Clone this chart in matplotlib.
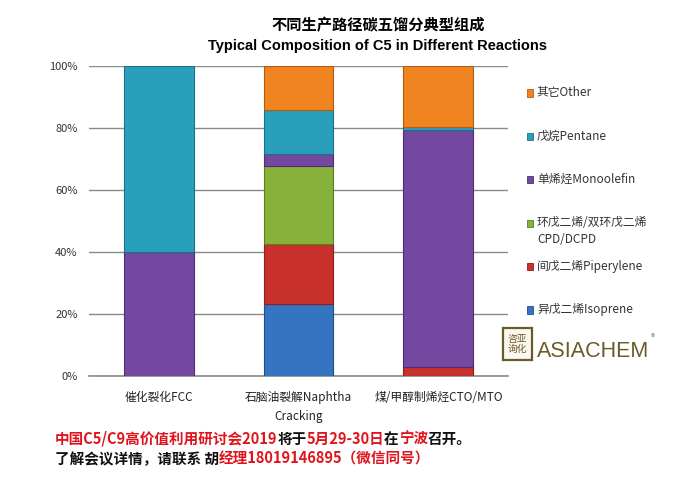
import matplotlib
matplotlib.use("Agg")
import matplotlib.pyplot as plt
from matplotlib.offsetbox import TextArea, HPacker, AnchoredOffsetbox
from matplotlib.patches import Rectangle
import numpy as np

plt.rcParams['font.family'] = ['Noto Sans CJK SC', 'DejaVu Sans']

# routes (x categories)
routes = ["催化裂化FCC", "石脑油裂解Naphtha\nCracking", "煤/甲醇制烯烃CTO/MTO"]

# components, bottom to top (percent)
components = ["异戊二烯Isoprene", "间戊二烯Piperylene", "环戊二烯/双环戊二烯\nCPD/DCPD",
              "单烯烃Monoolefin", "戊烷Pentane", "其它Other"]
isoprene   = [0, 23.2, 0]
piperylene = [0, 19.5, 2.8]
cpd        = [0, 25.0, 0]
monoolefin = [40, 4.0, 76.5]
pentane    = [60, 14.1, 1.1]
other      = [0, 14.2, 19.6]
series = [isoprene, piperylene, cpd, monoolefin, pentane, other]

colors = ["#3574c0", "#c8302c", "#86b23a", "#7448a0", "#2a9fbc", "#ef8420"]
edges  = ["#1f4f8a", "#8e1e1b", "#5c7d22", "#4e2e73", "#1a7088", "#b35c10"]

fig = plt.figure(figsize=(7, 4.87), dpi=100)
ax = fig.add_axes([0.127, 0.228, 0.599, 0.6365])

x = np.arange(len(routes))
bottom = np.zeros(len(routes))
for vals, c, ec in zip(series, colors, edges):
    vals = np.array(vals, dtype=float)
    lw = [0.8 if v > 0 else 0 for v in vals]
    ax.bar(x, vals, 0.5, bottom=bottom, color=c, edgecolor=ec, linewidth=lw, zorder=3)
    bottom += vals

ax.set_xlim(-0.5, 2.5)
ax.set_ylim(0, 100)
ax.set_yticks(range(0, 101, 20))
ax.set_yticklabels(["%d%%" % v for v in range(0, 101, 20)], fontsize=8, color="#333333")
ax.set_xticks(x)
ax.set_xticklabels(routes, fontsize=8.5, color="#222222", linespacing=1.55)
ax.tick_params(axis="y", length=0, pad=8)
ax.tick_params(axis="x", length=0, pad=11)
ax.grid(axis="y", color="#8a8a8a", linewidth=1.0, zorder=0)
ax.set_axisbelow(True)
for s in ["left", "right", "top"]:
    ax.spines[s].set_visible(False)
ax.spines["bottom"].set_color("#8a8a8a")
ax.spines["bottom"].set_linewidth(1.2)

# legend (top entry = last series), marker next to first line of each label
leg_top = 1 - 93 / 487
leg_step = 43.4 / 487
for i, (name, c, ec) in enumerate(zip(components[::-1], colors[::-1], edges[::-1])):
    yc = leg_top - i * leg_step
    fig.patches.append(Rectangle((0.7525, yc - 0.0072), 0.0095, 0.0144,
                                 transform=fig.transFigure, facecolor=c,
                                 edgecolor=ec, linewidth=0.6))
    fig.text(0.767, yc + 0.0145, name, ha="left", va="top", fontsize=8.5,
             color="#333333", linespacing=1.35)

# title
fig.text(0.541, 0.948, "不同生产路径碳五馏分典型组成", ha="center", va="center",
         fontsize=11, fontweight="bold")
fig.text(0.54, 0.905, "Typical Composition of C5 in Different Reactions", ha="center",
         va="center", fontsize=10.5, fontweight="bold", family="Liberation Sans")

# logo
brown = "#6b5a2a"
fig.patches.append(Rectangle((0.719, 0.261), 0.041, 0.065, transform=fig.transFigure,
                             facecolor="#fbf8f0", edgecolor=brown, linewidth=1.6))
fig.text(0.7395, 0.2935, "咨亚\n询化", ha="center", va="center", fontsize=7,
         color=brown, linespacing=1.1)
fig.text(0.767, 0.266, "ASIACHEM", ha="left", va="baseline", fontsize=15.5,
         color=brown, family="Liberation Sans")
fig.text(0.929, 0.306, "®", ha="left", va="center", fontsize=6, color="#888888")

# footer
red = "#e0141c"
blk = "#111111"
line1 = [("中国C5/C9高价值利用研讨会2019", red), ("将于", blk), ("5月29-30日", red),
         ("在", blk), ("宁波", red), ("召开。", blk)]
line2 = [("了解会议详情，请联系 胡", blk), ("经理18019146895（微信同号）", red)]

for parts, ypos in [(line1, 0.099), (line2, 0.058)]:
    boxes = [TextArea(s, textprops=dict(color=c, fontsize=10.5, fontweight="bold"))
             for s, c in parts]
    pack = HPacker(children=boxes, align="baseline", pad=0, sep=0)
    ab = AnchoredOffsetbox(loc="center left", child=pack, pad=0, frameon=False,
                           bbox_to_anchor=(0.078, ypos), bbox_transform=fig.transFigure,
                           borderpad=0)
    fig.add_artist(ab)

fig.savefig("out.png", dpi=100)
